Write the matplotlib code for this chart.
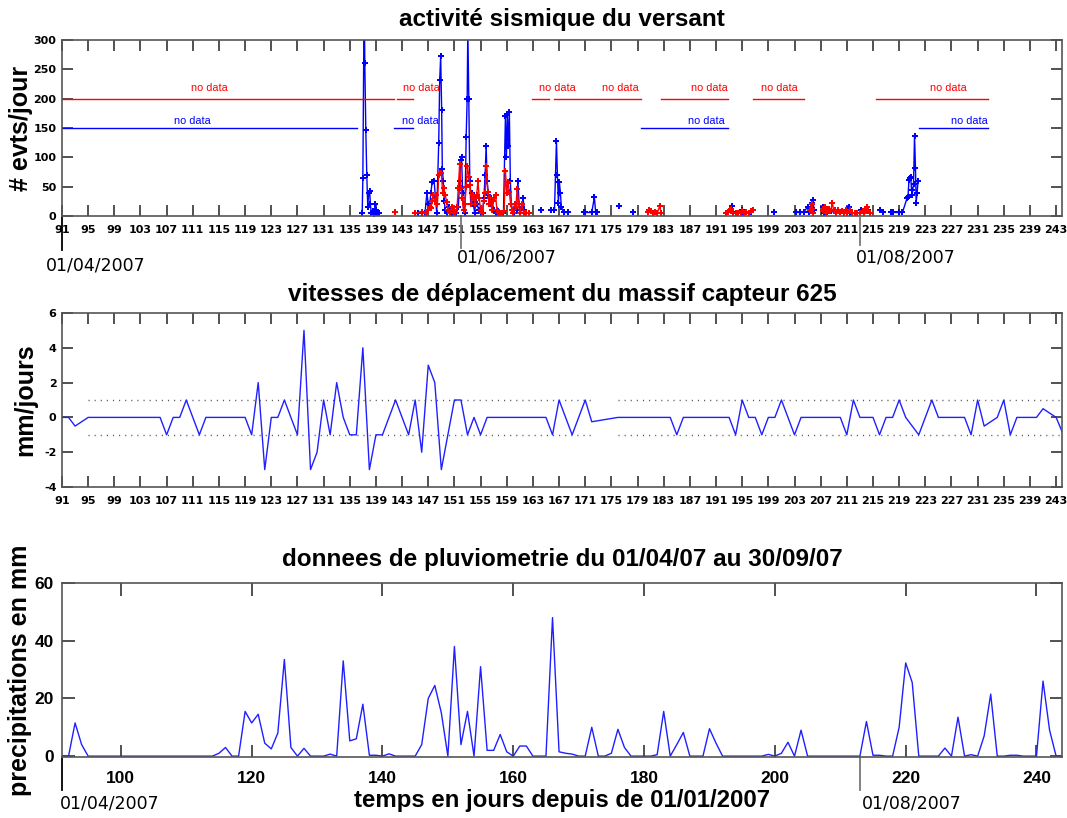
import numpy as np
import matplotlib
matplotlib.use("Agg")
import matplotlib.pyplot as plt
from matplotlib.transforms import blended_transform_factory

# ---------------- data ----------------
# seismic activity (events/day) - blue station
blue_days = [136.9, 137.0, 137.2, 137.3, 137.45, 137.6, 137.75, 137.9, 138.05, 138.15, 138.3, 138.5, 138.7,
             138.9, 139.05, 139.2, 139.5,
             145.4, 146.0, 146.5, 146.8, 147.0, 147.2, 147.4, 147.6, 147.9, 148.1, 148.3, 148.6, 148.75,
             148.9, 149.05, 149.15, 149.3, 149.45, 149.6, 149.9, 150.2, 150.4, 150.7, 151.0, 151.3, 151.6,
             151.8, 151.95, 152.1, 152.25, 152.4, 152.6, 152.8, 152.95, 153.05, 153.2, 153.35, 153.5, 153.7,
             153.9, 154.1, 154.3, 154.5, 154.7, 155.0, 155.3, 155.5, 155.7, 155.85, 156.0, 156.2, 156.4,
             156.6, 156.8, 157.0, 157.3, 157.6, 157.8, 158.0, 158.5, 158.8, 158.95, 159.1, 159.25, 159.4,
             159.55, 159.7, 159.9, 160.1, 160.3, 160.5, 160.7, 160.9, 161.1, 161.3, 161.5, 161.7, 161.9,
             164.3, 165.7, 166.3, 166.6, 166.75, 166.9, 167.05, 167.2, 167.35, 167.7, 168.3,
             170.8, 171.0, 172.0, 172.4, 172.6, 172.8, 176.1, 178.3,
             193.4, 193.6, 194.9, 195.0, 196.4, 199.8,
             203.3, 203.9, 204.4, 205.0, 205.2, 205.6, 205.8, 206.0, 207.3, 207.5, 208.0, 208.6, 209.3,
             210.0, 210.6, 211.3, 211.5, 212.2, 213.0, 213.2, 213.6, 214.2,
             216.0, 216.6, 217.7, 218.1, 219.0, 219.5, 220.2, 220.35, 220.5, 220.6, 220.75, 220.9, 221.0,
             221.2, 221.35, 221.5, 221.6, 221.75, 221.9]
blue_evts = [5, 65, 380, 260, 147, 70, 15, 40, 42, 20, 5, 8, 3,
             20, 10, 5, 5,
             5, 5, 5, 40, 20, 15, 40, 58, 60, 30, 5, 125, 232,
             272, 180, 80, 60, 25, 10, 5, 15, 10, 5, 8, 5, 15,
             60, 95, 100, 40, 10, 5, 135, 200, 320, 200, 60, 20, 40,
             20, 5, 30, 20, 10, 5, 5, 30, 70, 120, 60, 35, 20,
             30, 25, 10, 5, 8, 5, 5, 5, 170, 100, 172, 120, 177,
             60, 20, 10, 5, 20, 10, 60, 20, 5, 15, 30, 10, 5,
             10, 10, 10, 127, 70, 22, 58, 40, 16, 6, 6,
             6, 6, 6, 32, 6, 6, 17, 6,
             17, 6, 6, 11, 6, 6,
             6, 6, 6, 16, 6, 22, 27, 10, 16, 5, 6, 8, 5,
             6, 5, 16, 5, 5, 5, 11, 5, 10,
             11, 6, 6, 6, 6, 6, 30, 32, 61, 64, 67, 44, 36,
             55, 137, 81, 22, 40, 60]

# seismic activity (events/day) - red station
red_days = [141.9, 145.0,
            146.0, 146.6, 146.9, 147.2, 147.4, 147.6, 147.8, 148.0, 148.2, 148.4, 148.6, 148.8, 149.0,
            149.2, 149.4, 149.6, 149.8, 150.0, 150.3, 150.6, 150.9, 151.1, 151.4, 151.6, 151.8, 152.0,
            152.2, 152.4, 152.6, 152.8, 153.0, 153.2, 153.4, 153.6, 153.8, 154.0, 154.2, 154.4, 154.6,
            154.8, 155.0, 155.2, 155.5, 155.7, 155.9, 156.1, 156.3, 156.5, 156.7, 156.9, 157.1, 157.3,
            157.5, 157.7, 158.0, 158.3, 158.6, 158.8, 159.0, 159.2, 159.4, 159.6, 159.8, 160.0, 160.2,
            160.4, 160.6, 160.8, 161.0, 161.3, 161.6, 162.0, 162.4,
            180.6, 180.8, 181.0, 181.3, 181.6, 182.0, 182.4, 182.6,
            192.6, 192.9, 193.1, 193.3, 193.6, 194.0, 194.4, 194.8, 195.0, 195.3, 195.6, 196.0, 196.3,
            196.6,
            205.4, 205.6, 205.75, 205.9,
            207.3, 207.6, 207.8, 208.0, 208.2, 208.5, 208.8, 209.0, 209.2, 209.4, 209.7, 209.9, 210.2,
            210.5, 210.8, 211.0, 211.5, 211.8, 212.2, 212.6, 213.0, 213.4, 213.7, 214.0, 214.1, 214.3,
            214.5]
red_evts = [6, 5,
            6, 5, 10, 15, 13, 25, 35, 26, 36, 20, 70, 73, 73,
            40, 47, 36, 24, 10, 5, 15, 10, 5, 15, 48, 88, 47,
            31, 10, 20, 50, 85, 67, 53, 20, 35, 30, 20, 36, 60,
            30, 10, 5, 25, 40, 85, 41, 20, 30, 10, 25, 30, 35,
            10, 5, 5, 5, 8, 77, 40, 58, 41, 20, 10, 5, 20,
            15, 46, 20, 5, 20, 5, 5, 5,
            6, 10, 8, 5, 7, 5, 17, 5,
            5, 7, 10, 12, 5, 5, 5, 5, 8, 5, 6, 5, 8,
            11,
            10, 20, 12, 5,
            10, 16, 5, 10, 12, 8, 22, 8, 10, 5, 11, 6, 8,
            5, 10, 5, 10, 5, 5, 5, 5, 8, 5, 12, 16, 8,
            5]

red_nodata = [(91, 141.8), (142.2, 144.7), (162.8, 165.5), (166.2, 179.6), (182.6, 192.8),
              (196.7, 204.5), (215.4, 232.6)]
red_nodata_label_days = [113.5, 146.0, 166.8, 176.3, 190.0, 200.7, 226.6]
blue_nodata = [(91, 136.1), (141.8, 144.7), (179.6, 192.8), (222.0, 232.6)]
blue_nodata_label_days = [111.0, 145.8, 189.5, 229.8]

# displacement velocity (mm/day), sensor 625
vel_days = list(range(91, 173)) + list(range(176, 245))
vel_vals = [0, 0, -0.5, -0.25, 0, 0, 0, 0, 0, 0, 0, 0, 0, 0, 0, 0, -1, 0, 0, 1,      # 91-110
            0, -1, 0, 0, 0, 0, 0, 0, 0, -1, 2, -3, 0, 0, 1, 0, -1, 5, -3, -2,        # 111-130
            1, -1, 2, 0, -1, -1, 4, -3, -1, -1, 0, 1, 0, -1, 1, -2, 3, 2, -3, -1,    # 131-150
            1, 1, -1, 0, -1, 0, 0, 0, 0, 0, 0, 0, 0, 0, 0, -1, 1, 0, -1, 0,          # 151-170
            1, -0.25,                                                                # 171-172
            0, 0, 0, 0, 0, 0, 0, 0, 0, -1, 0, 0, 0, 0, 0, 0, 0, 0, -1, 1,            # 176-195
            0, 0, -1, 0, 0, 1, 0, -1, 0, 0, 0, 0, 0, 0, 0, -1, 1, 0, 0, 0,           # 196-215
            -1, 0, 0, 1, 0, -0.5, -1, 0, 1, 0, 0, 0, 0, 0, -1, 1, -0.5, -0.25, 0, 1, # 216-235
            -1, 0, 0, 0, 0, 0.5, 0.25, 0, -0.9]                                      # 236-244

# rainfall (mm/day)
rain_days = list(range(91, 245))
rain_mm = [0, 0, 11.5, 4, 0, 0, 0, 0, 0, 0, 0, 0, 0, 0, 0, 0, 0, 0, 0, 0,           # 91-110
           0, 0, 0, 0, 1, 3, 0, 0, 15.5, 11.5, 14.5, 4.5, 2.5, 8, 33.5, 3, 0, 2.7, 0, 0,  # 111-130
           0, 0.7, 0, 33, 5.3, 6, 18, 0.3, 0.3, 0, 0.8, 0, 0, 0, 0, 4, 20, 24.5, 15, 0,   # 131-150
           38, 4, 15.5, 0, 31, 2, 2, 7.5, 1.5, 0, 3.5, 3.5, 0, 0, 0, 48, 1.5, 1, 0.7, 0,  # 151-170
           0, 10, 0, 0, 1, 9.3, 3, 0, 0, 0, 0, 0.5, 15.5, 0, 4, 8.2, 0, 0, 0, 9.5,       # 171-190
           4.5, 0, 0, 0, 0, 0, 0, 0, 0.6, 0, 1, 4.8, 0, 9, 0, 0, 0, 0, 0, 0,             # 191-210
           0, 0, 0, 12, 0.3, 0.3, 0, 0, 10, 32.3, 25.5, 0, 0, 0, 0, 2.8, 0, 13.5, 0, 0.5, # 211-230
           0, 7, 21.5, 0, 0, 0.3, 0.3, 0, 0, 0, 26, 9, 0, 0]                             # 231-244

top_xticks = list(range(91, 245, 4))
top_yticks = [0, 50, 100, 150, 200, 250, 300]
mid_yticks = [-4, -2, 0, 2, 4, 6]
bot_xticks = [100, 120, 140, 160, 180, 200, 220, 240]
bot_yticks = [0, 20, 40, 60]

# ---------------- figure ----------------
W, H = 1067, 818
fig = plt.figure(figsize=(W / 100, H / 100), dpi=100)


def ax_at(left, top, right, bottom):
    return fig.add_axes([left / W, 1 - bottom / H, (right - left) / W, (bottom - top) / H])


def with_gaps(d, v, maxgap=1.0):
    xs, ys = [d[0]], [v[0]]
    for i in range(1, len(d)):
        if d[i] - d[i - 1] > maxgap:
            xs.append(np.nan)
            ys.append(np.nan)
        xs.append(d[i])
        ys.append(v[i])
    return np.array(xs, float), np.array(ys, float)


TICKFONT = dict(family=["Liberation Sans Narrow", "DejaVu Sans"], weight="bold", size=8)
TITLEFONT = dict(family=["Liberation Sans", "DejaVu Sans"], weight="bold", size=17.5)
LABELFONT = dict(family=["Liberation Sans", "DejaVu Sans"], weight="bold", size=18)
DATEFONT = dict(family=["DejaVu Sans"], size=12.5)
XLIM = (91, 243.9)
SPINE = "#555555"


def style(ax):
    for s in ax.spines.values():
        s.set_color(SPINE)
        s.set_linewidth(1.2)
    ax.tick_params(direction="in", length=8, width=1.2, color="#333333",
                   top=True, right=True, pad=6.5)
    ax.set_xlim(*XLIM)


# ---- top panel ----
ax1 = ax_at(62, 40, 1062, 216)
style(ax1)
ax1.set_ylim(0, 300)
bx, by = with_gaps(blue_days, blue_evts)
rx, ry = with_gaps(red_days, red_evts)
ax1.plot(bx, by, "-", color="#0000ff", lw=1.0, marker="P", ms=4, mew=0)
ax1.plot(rx, ry, "-", color="#ff0000", lw=1.0, marker="P", ms=4, mew=0)
for (a, b) in red_nodata:
    ax1.plot([a, b], [200, 200], color="#ff0000", lw=1.0)
for d in red_nodata_label_days:
    ax1.text(d, 218, "no data", color="#ff0000", ha="center", va="center",
             family=["Liberation Sans", "DejaVu Sans"], size=7.8)
for (a, b) in blue_nodata:
    ax1.plot([a, b], [150, 150], color="#0000ff", lw=1.0)
for d in blue_nodata_label_days:
    ax1.text(d, 162, "no data", color="#0000ff", ha="center", va="center",
             family=["Liberation Sans", "DejaVu Sans"], size=7.8)
ax1.set_xticks(top_xticks)
ax1.set_xticklabels([str(t) for t in top_xticks], **TICKFONT)
ax1.set_yticks(top_yticks)
ax1.set_yticklabels([str(t) for t in top_yticks], **TICKFONT)
ax1.tick_params(axis="y", pad=4)
ax1.set_title("activité sismique du versant", pad=10, **TITLEFONT)
ax1.set_ylabel("# evts/jour", **LABELFONT)
ax1.yaxis.set_label_coords(-0.029, 0.5)

# ---- middle panel ----
ax2 = ax_at(62, 313, 1062, 487)
style(ax2)
ax2.set_ylim(-4, 6)
for lvl in (1, -1):
    ax2.plot([95, 172.5], [lvl, lvl], color="#555555", lw=1.0, ls=(0, (0.8, 3.6)))
    ax2.plot([176, 244], [lvl, lvl], color="#555555", lw=1.0, ls=(0, (0.8, 3.6)))
ax2.plot(vel_days, vel_vals, "-", color="#2020ff", lw=1.0)
ax2.set_xticks(top_xticks)
ax2.set_xticklabels([str(t) for t in top_xticks], **TICKFONT)
ax2.set_yticks(mid_yticks)
ax2.set_yticklabels([str(t) for t in mid_yticks], **TICKFONT)
ax2.tick_params(axis="y", pad=4)
ax2.set_title("vitesses de déplacement du massif capteur 625", pad=8.5, **TITLEFONT)
ax2.set_ylabel("mm/jours", **LABELFONT)
ax2.yaxis.set_label_coords(-0.025, 0.5)

# ---- bottom panel ----
ax3 = ax_at(62, 583, 1062, 757)
style(ax3)
ax3.set_ylim(-0.3, 60)
ax3.plot(rain_days, rain_mm, "-", color="#2020ff", lw=1.0)
ax3.set_xticks(bot_xticks)
ax3.set_xticklabels([str(t) for t in bot_xticks], family=["Liberation Sans", "DejaVu Sans"],
                    weight="bold", size=12.5)
ax3.set_yticks(bot_yticks)
ax3.set_yticklabels([str(t) for t in bot_yticks], family=["Liberation Sans", "DejaVu Sans"],
                    weight="bold", size=12.5)
ax3.tick_params(length=9)
ax3.tick_params(axis="x", pad=10)
ax3.tick_params(axis="y", pad=6)
ax3.set_title("donnees de pluviometrie du 01/04/07 au 30/09/07", pad=12, **TITLEFONT)
ax3.set_ylabel("precipitations en mm", **LABELFONT)
ax3.yaxis.set_label_coords(-0.030, 0.5)
ax3.set_xlabel("temps en jours depuis de 01/01/2007", labelpad=2,
               family=["Liberation Sans", "DejaVu Sans"], weight="bold", size=17.3)


# ---- date markers ----
def date_mark(ax, day, y0, y1, color, text, text_day, ty):
    tr = blended_transform_factory(ax.transData, fig.transFigure)
    ax.plot([day, day], [1 - y0 / H, 1 - y1 / H], color=color, lw=1.3,
            transform=tr, clip_on=False)
    ax.text(text_day, 1 - ty / H, text, transform=tr, ha="left", va="center", **DATEFONT)


date_mark(ax1, 91, 216, 250, "#000000", "01/04/2007", 88.5, 266)
date_mark(ax1, 152, 216, 248, "#777777", "01/06/2007", 151.4, 258)
date_mark(ax1, 213, 218, 245, "#777777", "01/08/2007", 212.4, 258)
date_mark(ax3, 91, 757, 790, "#000000", "01/04/2007", 90.6, 803)
date_mark(ax3, 213, 757, 790, "#777777", "01/08/2007", 213.3, 803)

fig.savefig("out.png", dpi=100)
